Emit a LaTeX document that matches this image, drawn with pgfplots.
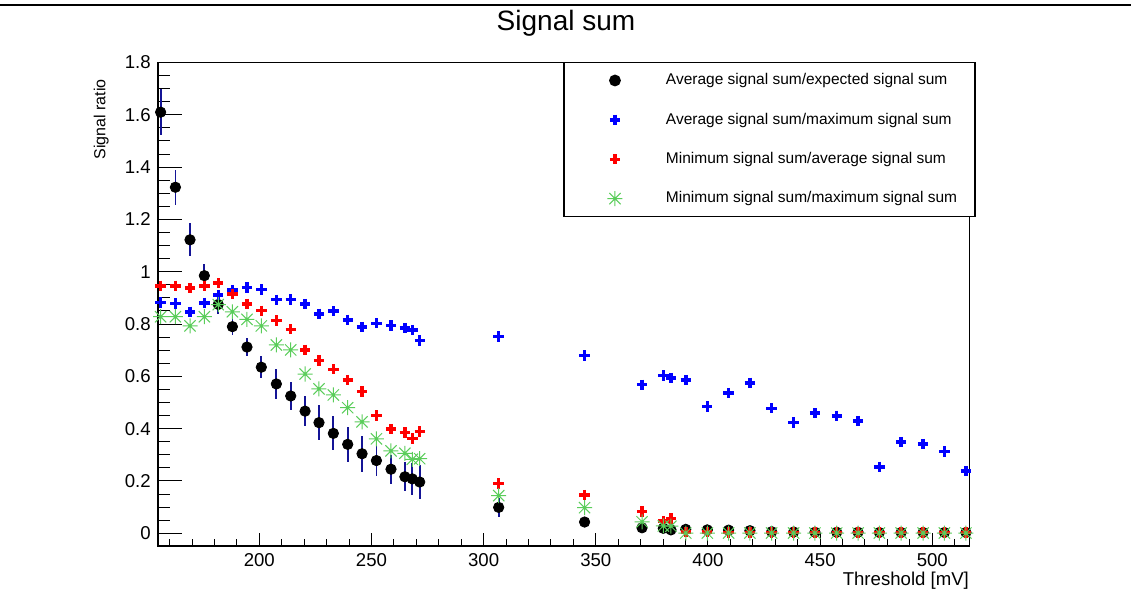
\documentclass[border=0pt]{standalone}
\usepackage{fontspec}
\setmainfont{Liberation Sans}
\usepackage{pgfplots}
\pgfplotsset{compat=1.18}
\usepackage{pgfplotstable}

\definecolor{rootgreen}{RGB}{90,205,90}
\definecolor{errblue}{RGB}{20,20,150}

% eight-armed asterisk (horizontal, vertical and both diagonals)
\pgfdeclareplotmark{ast8}{%
  \pgfpathmoveto{\pgfqpoint{-\pgfplotmarksize}{0pt}}%
  \pgfpathlineto{\pgfqpoint{\pgfplotmarksize}{0pt}}%
  \pgfpathmoveto{\pgfqpoint{0pt}{-\pgfplotmarksize}}%
  \pgfpathlineto{\pgfqpoint{0pt}{\pgfplotmarksize}}%
  \pgfpathmoveto{\pgfqpoint{-.75\pgfplotmarksize}{-.75\pgfplotmarksize}}%
  \pgfpathlineto{\pgfqpoint{.75\pgfplotmarksize}{.75\pgfplotmarksize}}%
  \pgfpathmoveto{\pgfqpoint{-.75\pgfplotmarksize}{.75\pgfplotmarksize}}%
  \pgfpathlineto{\pgfqpoint{.75\pgfplotmarksize}{-.75\pgfplotmarksize}}%
  \pgfusepathqstroke
  \pgfpathcircle{\pgfpointorigin}{.2\pgfplotmarksize}%
  \pgfusepathqfill}

% x: threshold [mV]
% a: average/expected, ea: its error
% b: average/maximum
% c: minimum/average
% d: minimum/maximum
\pgfplotstableread{
x     a      ea     b      c      d
156.0 1.610  0.087  0.883  0.946  0.828
162.6 1.323  0.066  0.878  0.946  0.828
169.1 1.122  0.063  0.847  0.938  0.793
175.5 0.985  0.045  0.881  0.946  0.828
181.7 0.875  0.035  0.911  0.956  0.874
188.0 0.790  0.033  0.930  0.914  0.847
194.5 0.712  0.036  0.939  0.877  0.818
200.9 0.635  0.043  0.932  0.851  0.793
207.6 0.571  0.056  0.893  0.813  0.720
214.0 0.525  0.054  0.894  0.780  0.701
220.4 0.467  0.056  0.876  0.701  0.609
226.6 0.423  0.067  0.839  0.660  0.552
233.0 0.382  0.065  0.849  0.627  0.529
239.4 0.340  0.066  0.816  0.586  0.480
245.8 0.304  0.068  0.788  0.542  0.426
252.2 0.278  0.060  0.803  0.450  0.361
258.7 0.245  0.055  0.794  0.398  0.315
264.9 0.216  0.056  0.785  0.385  0.306
268.2 0.208  0.060  0.777  0.363  0.283
271.5 0.196  0.065  0.737  0.389  0.285
306.7 0.099  0.035  0.752  0.191  0.144
345.0 0.043  0.012  0.679  0.146  0.098
370.6 0.021  0.008  0.568  0.083  0.044
380.1 0.019  0.006  0.603  0.047  0.028
383.5 0.013  0.006  0.593  0.057  0.027
390.1 0.015  0.005  0.586  0.005  0.001
399.7 0.013  0.004  0.484  0.004  0.001
409.2 0.012  0.004  0.536  0.003  0.001
418.7 0.010  0.004  0.575  0.003  0.001
428.4 0.006  0.003  0.478  0.003  0.001
438.2 0.005  0.003  0.423  0.003  0.001
447.7 0.004  0.002  0.459  0.003  0.001
457.4 0.004  0.002  0.449  0.003  0.001
466.9 0.004  0.002  0.429  0.003  0.001
476.4 0.003  0.002  0.254  0.003  0.001
486.1 0.003  0.002  0.349  0.003  0.001
495.9 0.003  0.002  0.341  0.003  0.001
505.4 0.003  0.002  0.312  0.003  0.001
515.0 0.003  0.002  0.238  0.003  0.001
}\sigdata

\begin{document}
\begin{tikzpicture}
\path[use as bounding box] (0pt,0pt) rectangle (565.5pt,297pt);
\draw[line width=1pt] (0pt,294.5pt) -- (565.5pt,294.5pt);
\node[font=\fontsize{14pt}{17pt}\selectfont, anchor=base, inner sep=0pt]
  at (283pt,281.5pt) {Signal sum};
\begin{axis}[
  at={(78.85pt,24pt)}, anchor=south west,
  scale only axis, width=405.8pt, height=241.75pt,
  xmin=154.7, xmax=516.5, ymin=-0.0486, ymax=1.8,
  clip=false,
  axis line style={line width=0.8pt},
  tick align=inside, tick pos=left,
  every tick/.style={black, line width=0.5pt},
  xtick={200,250,300,350,400,450,500},
  minor xtick={160,170,180,190,210,220,230,240,260,270,280,290,310,320,330,340,360,370,380,390,410,420,430,440,460,470,480,490,510},
  ytick={0,0.2,0.4,0.6,0.8,1,1.2,1.4,1.6,1.8},
  yticklabels={0,0.2,0.4,0.6,0.8,1,1.2,1.4,1.6,1.8},
  minor ytick={0.05,0.1,0.15,0.25,0.3,0.35,0.45,0.5,0.55,0.65,0.7,0.75,0.85,0.9,0.95,1.05,1.1,1.15,1.25,1.3,1.35,1.45,1.5,1.55,1.65,1.7,1.75},
  xtick style={/pgfplots/major tick length=6.35pt},
  minor x tick style={/pgfplots/minor tick length=3.3pt},
  ytick style={/pgfplots/major tick length=12pt},
  minor y tick style={/pgfplots/minor tick length=6pt},
  /pgf/number format/assume math mode=true,
  tick label style={font=\fontsize{9.3pt}{11pt}\selectfont},
  xlabel={Threshold [mV]},
  xlabel style={at={(axis description cs:1,0)}, anchor=base east,
    yshift=-20pt, inner sep=0pt, font=\fontsize{9.3pt}{11pt}\selectfont},
  ylabel={Signal ratio},
  ylabel style={at={(axis description cs:-0.0645,0.966)}, anchor=base east,
    inner sep=0pt, font=\fontsize{8pt}{10pt}\selectfont},
  legend style={at={(axis description cs:0.5006,1)}, anchor=north west,
    draw=black, line width=0.7pt, fill=white,
    inner sep=0pt, outer sep=0pt, row sep=1.7pt, column sep=0pt,
    nodes={inner sep=0pt, font=\fontsize{7.75pt}{9pt}\selectfont}},
  legend cell align=left,
  legend image code/.code={%
    \path[draw=none, fill=none] (-25.5pt,-9pt) rectangle (25.5pt,9pt);
    \draw[#1] plot coordinates {(0pt,0pt)};},
]
\addplot[only marks, mark=*, mark size=2.6pt, black,
  error bars/.cd, y dir=both, y explicit, error mark=none,
  error bar style={errblue, line width=0.9pt}]
  table[x=x, y=a, y error=ea] {\sigdata};
\addlegendentry{\makebox[154.6pt][l]{Average signal sum/expected signal sum}}
\addplot[only marks, mark=+, mark size=2.6pt, line width=1.75pt, blue]
  table[x=x, y=b] {\sigdata};
\addlegendentry{\makebox[154.6pt][l]{Average signal sum/maximum signal sum}}
\addplot[only marks, mark=+, mark size=2.6pt, line width=1.75pt, red]
  table[x=x, y=c] {\sigdata};
\addlegendentry{\makebox[154.6pt][l]{Minimum signal sum/average signal sum}}
\addplot[only marks, mark=ast8, mark size=3.75pt, line width=0.5pt, rootgreen]
  table[x=x, y=d] {\sigdata};
\addlegendentry{\makebox[154.6pt][l]{Minimum signal sum/maximum signal sum}}
\end{axis}
\end{tikzpicture}
\end{document}
